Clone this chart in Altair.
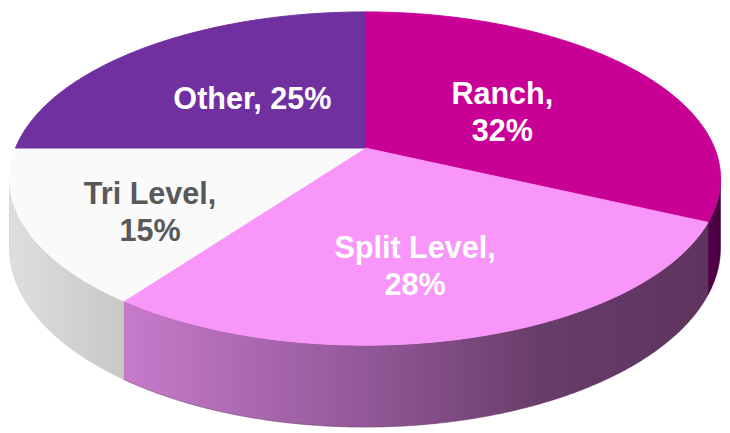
import numpy as np
import pandas as pd
import altair as alt

# ---- data ----
categories = ["Ranch", "Split Level", "Tri Level", "Other"]
shares = [32, 28, 15, 25]
label_texts = ["Ranch,\n32%", "Split Level,\n28%", "Tri Level,\n15%", "Other, 25%"]

# ---- styles ----
top_colors = ["#C80096", "#F996F9", "#FAFAFA", "#7030A0"]
label_colors = ["#FFFFFF", "#FFFFFF", "#595959", "#FFFFFF"]
# label placement: fraction of radius, angular shift from the slice's mid-angle (deg)
label_radius = [0.474, 0.656, 0.681, 0.4725]
label_shift = [2.3, 3.3, -5.6, -1.3]
FONT_SIZE = 31
LINE_HEIGHT = 38
wall_gradients = {
    "Ranch": [(0, "#55004A"), (1, "#45003C")],
    "Split Level": [(0, "#C77BCB"), (0.4, "#94599A"), (0.72, "#683C69"), (1, "#5E345F")],
    "Tri Level": [(0, "#DEDEDE"), (1, "#C8C8C8")],
    "Other": [(0, "#4A1E6A"), (1, "#3A1555")],
}

# ---- projection of the tilted disc (page pixel coordinates) ----
CX, CY = 366.0, 145.0
A, B, K = 354.4, 163.3, 0.1834
DEPTH = 67.8


def project(theta_deg, r=1.0):
    t = np.radians(theta_deg)
    u = r * np.sin(t)
    v = r * np.cos(t)
    d = 1 + K * v
    return CX + A * u / d, CY - B * v / d, d


total = float(sum(shares))
starts, ends = [], []
acc = 0.0
for s in shares:
    starts.append(acc / total * 360.0)
    acc += s
    ends.append(acc / total * 360.0)

vis_lo = 90 + np.degrees(np.arcsin(K))
vis_hi = 270 - np.degrees(np.arcsin(K))

top_rows, wall_frames, label_rows = [], {}, []
for cat, a0, a1, col, lcol, txt, lr, ls in zip(
        categories, starts, ends, top_colors, label_colors, label_texts, label_radius, label_shift):
    n = max(int((a1 - a0) / 0.5), 2)
    th = np.linspace(a0, a1, n)
    xs, ys, _ = project(th)
    px = np.concatenate([[CX], xs, [CX]])
    py = np.concatenate([[CY], ys, [CY]])
    for i, (x, y) in enumerate(zip(px, py)):
        top_rows.append({"cat": cat, "i": i, "x": x, "y": y, "col": col})
    lx, ly, _ = project((a0 + a1) / 2 + ls, lr)
    nlines = txt.count("\n") + 1
    # first-line alphabetic baseline so that the text block is centred on the anchor
    base_y = float(ly) - (nlines - 1) * LINE_HEIGHT / 2 + 0.358 * FONT_SIZE
    label_rows.append({"cat": cat, "x": float(lx), "y": base_y, "text": txt, "col": lcol})
    # visible side wall
    lo, hi = max(a0, vis_lo), min(a1, vis_hi)
    if hi > lo:
        thw = np.linspace(lo, hi, max(int((hi - lo) / 0.5), 2))
        wx, wy, wd = project(thw)
        wall_frames[cat] = pd.DataFrame({"x": wx, "yt": wy, "yb": wy + DEPTH / wd})

top_df = pd.DataFrame(top_rows)
label_df = pd.DataFrame(label_rows)

W, H = 714, 417
xs_ = alt.Scale(domain=[8, 8 + W])
ys_ = alt.Scale(domain=[8, 8 + H], reverse=True)

layers = []
for cat, df in wall_frames.items():
    stops = [alt.GradientStop(offset=o, color=c) for o, c in wall_gradients[cat]]
    layers.append(
        alt.Chart(df).mark_area(
            color=alt.LinearGradient(gradient="linear", stops=stops, x1=0, x2=1, y1=0, y2=0),
            stroke=wall_gradients[cat][-1][1], strokeWidth=0.5,
        ).encode(
            x=alt.X("x:Q", scale=xs_, axis=None),
            y=alt.Y("yb:Q", scale=ys_, axis=None),
            y2="yt:Q",
        )
    )

top = alt.Chart(top_df).mark_line(strokeWidth=1, strokeJoin="round").encode(
    x=alt.X("x:Q", scale=xs_, axis=None),
    y=alt.Y("y:Q", scale=ys_, axis=None),
    order=alt.Order("i:Q"),
    detail="cat:N",
    fill=alt.Fill("col:N", scale=None),
    stroke=alt.Stroke("col:N", scale=None),
)
layers.append(top)

labels = alt.Chart(label_df).mark_text(
    font="Liberation Sans", fontWeight="bold", fontSize=FONT_SIZE, lineHeight=LINE_HEIGHT,
    lineBreak="\n", align="center", baseline="alphabetic",
).encode(
    x=alt.X("x:Q", scale=xs_, axis=None),
    y=alt.Y("y:Q", scale=ys_, axis=None),
    text="text:N",
    color=alt.Color("col:N", scale=None),
)
layers.append(labels)

chart = alt.layer(*layers).properties(width=W, height=H, padding=0).configure_view(stroke=None)
chart.save("out.html", embed_options={"renderer": "svg", "actions": False})
